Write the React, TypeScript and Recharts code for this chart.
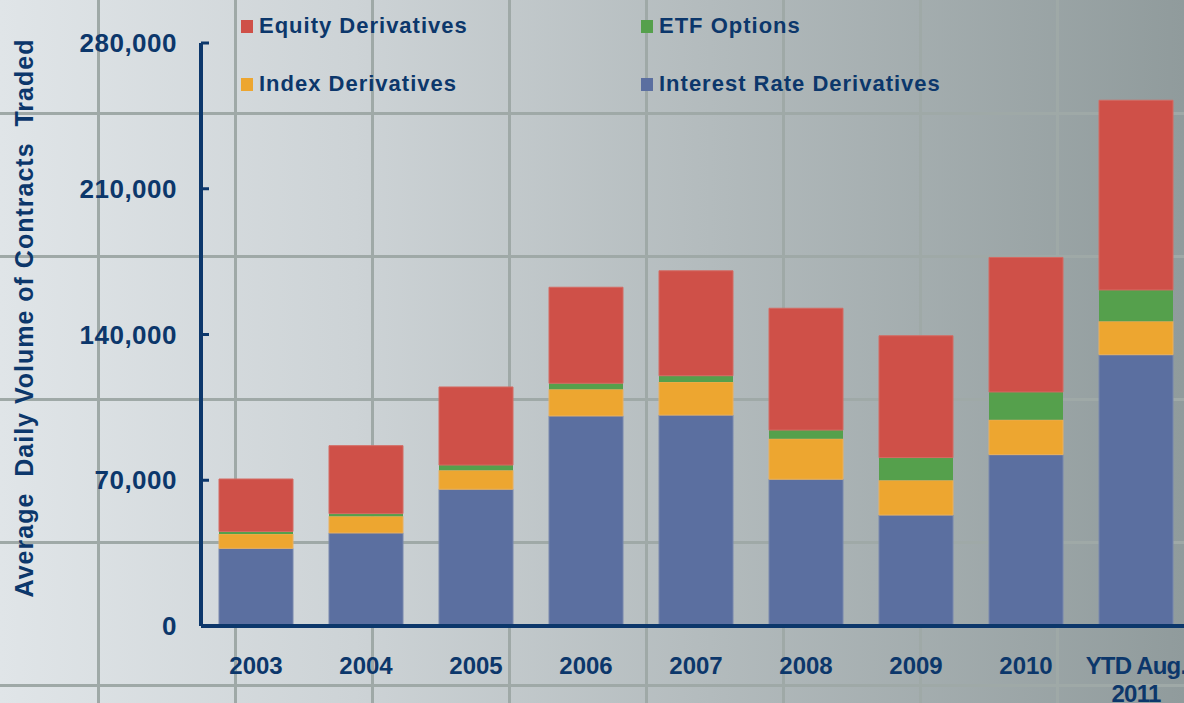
import { BarChart, Bar, XAxis, YAxis } from 'recharts'

const categories = ['2003', '2004', '2005', '2006', '2007', '2008', '2009', '2010', 'YTD Aug. 2011']
const interestRate = [37300, 44700, 65700, 100900, 101300, 70500, 53300, 82300, 130300]
const indexDeriv = [6900, 8000, 9100, 12800, 15900, 19400, 16700, 16700, 16100]
const etfOptions = [1200, 1300, 2500, 2900, 3000, 4200, 10900, 13400, 15000]
const equity = [25200, 32600, 37500, 46100, 50400, 58500, 58500, 64600, 91100]
const yTicks = [0, 70000, 140000, 210000, 280000]

const data = categories.map((c, i) => ({
  cat: c,
  ir: interestRate[i],
  idx: indexDeriv[i],
  etf: etfOptions[i],
  eq: equity[i],
}))

const NAVY = '#0c376b'
const FONT = '"Liberation Sans", Arial, sans-serif'

const legendItems = [
  { name: 'Equity Derivatives', color: '#cf5048' },
  { name: 'ETF Options', color: '#55a04c' },
  { name: 'Index Derivatives', color: '#eda630' },
  { name: 'Interest Rate Derivatives', color: '#5b6fa0' },
]

function YTick(props: any) {
  const { x, y, payload } = props
  const axisX = x + 24
  return (
    <g>
      <line x1={axisX} x2={axisX + 8} y1={y} y2={y} stroke={NAVY} strokeWidth={3} />
      <text x={x} y={y} dy={9} textAnchor="end" fill={NAVY} fontSize={26} fontWeight="bold" fontFamily={FONT} letterSpacing={0.5}>
        {payload.value.toLocaleString('en-US')}
      </text>
    </g>
  )
}

function XTick(props: any) {
  const { x, y, payload } = props
  const v: string = payload.value
  const ytd = v.startsWith('YTD')
  const lines = ytd ? ['YTD Aug.', '2011'] : [v]
  return (
    <text x={x} y={y} textAnchor="middle" fill={NAVY} fontSize={24} fontWeight="bold" fontFamily={FONT} letterSpacing={ytd ? -0.8 : 0}>
      {lines.map((l, i) => (
        <tspan key={l} x={x} dy={i === 0 ? 40 : 28}>{l}</tspan>
      ))}
    </text>
  )
}

function LegendBox() {
  return (
    <div
      style={{
        position: 'absolute',
        left: 241,
        top: 13,
        display: 'grid',
        gridTemplateColumns: '400px 400px',
        rowGap: 32,
        fontFamily: FONT,
      }}
    >
      {legendItems.map((it) => (
        <div key={it.name} style={{ display: 'flex', alignItems: 'center', height: 26 }}>
          <span style={{ width: 12, height: 13, background: it.color, marginRight: 6, display: 'inline-block' }} />
          <span style={{ color: NAVY, fontWeight: 'bold', fontSize: 22, letterSpacing: 1 }}>{it.name}</span>
        </div>
      ))}
    </div>
  )
}

function AxisTitle() {
  return (
    <text
      x={0}
      y={0}
      transform="translate(33, 318) rotate(-90)"
      textAnchor="middle"
      fill={NAVY}
      fontSize={25}
      fontWeight="bold"
      fontFamily={FONT}
      letterSpacing={1}
      style={{ whiteSpace: 'pre' }}
    >
      {'Average  Daily Volume of Contracts  Traded'}
    </text>
  )
}

export default function App() {
  return (
    <div
      style={{
        position: 'fixed',
        left: 0,
        top: 0,
        width: 1184,
        height: 703,
        overflow: 'hidden',
        backgroundImage: [
          'linear-gradient(to right, transparent 97px, #9fa9a7 97px, #9fa9a7 100px, transparent 100px)',
          'linear-gradient(to bottom, transparent 112px, #9fa9a7 112px, #9fa9a7 115px, transparent 115px)',
          'linear-gradient(to right, #e0e5e8 0%, #cdd3d6 30%, #b3bbbd 60%, #909b9c 100%)',
        ].join(','),
        backgroundSize: '137px 100%, 100% 143px, 100% 100%',
        backgroundRepeat: 'repeat-x, repeat-y, no-repeat',
      }}
    >
      <BarChart
        width={1200}
        height={703}
        data={data}
        margin={{ top: 43, right: 9, bottom: 0, left: 0 }}
        barSize={74}
      >
        <XAxis
          dataKey="cat"
          height={77}
          tickLine={false}
          axisLine={{ stroke: NAVY, strokeWidth: 4 }}
          tick={<XTick />}
          interval={0}
        />
        <YAxis
          width={201}
          domain={[0, 280000]}
          ticks={yTicks}
          tickSize={0}
          tickMargin={24}
          tickLine={false}
          axisLine={{ stroke: NAVY, strokeWidth: 4 }}
          tick={<YTick />}
          label={<AxisTitle />}
        />
        <Bar dataKey="ir" name="Interest Rate Derivatives" stackId="a" fill="#5b6fa0" stroke="#7888ad" strokeWidth={1} isAnimationActive={false} />
        <Bar dataKey="idx" name="Index Derivatives" stackId="a" fill="#eda630" stroke="#e8b060" strokeWidth={1} isAnimationActive={false} />
        <Bar dataKey="etf" name="ETF Options" stackId="a" fill="#55a04c" isAnimationActive={false} />
        <Bar dataKey="eq" name="Equity Derivatives" stackId="a" fill="#cf5048" stroke="#d46a63" strokeWidth={1} isAnimationActive={false} />
      </BarChart>
      <LegendBox />
    </div>
  )
}
